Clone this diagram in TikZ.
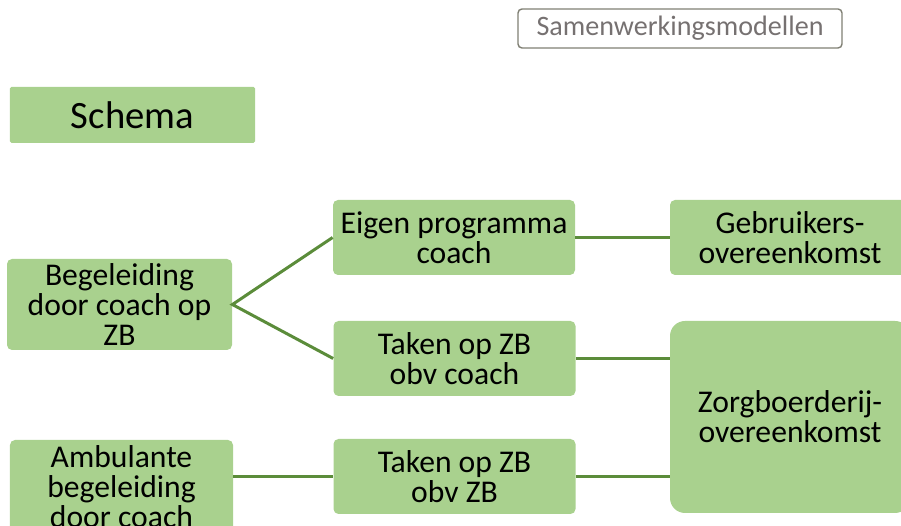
\documentclass[tikz,border=0pt]{standalone}
\usepackage{fontspec}
\setmainfont{Carlito}
\definecolor{boxgreen}{HTML}{A9D18E}
\definecolor{linegreen}{HTML}{5B8C3A}
\definecolor{framegray}{HTML}{7F7F73}
\definecolor{textgray}{HTML}{767171}

\begin{document}
\begin{tikzpicture}[
  box/.style={fill=boxgreen, rounded corners=0.1cm, align=center,
    minimum width=4.84cm, minimum height=1.5cm, inner sep=0pt,
    font=\fontsize{18}{17}\selectfont},
  link/.style={draw=linegreen, line width=1.7pt}]

\clip (0,0) rectangle (18.02,10.52);

\node (sam) at (13.6,9.95) [draw=framegray, line width=0.8pt, rounded corners=0.08cm,
  minimum width=6.48cm, minimum height=0.78cm, inner sep=0pt, text=textgray,
  font=\fontsize{16}{18}\selectfont] {Samenwerkingsmodellen};
\node (schema) at (2.65,8.22) [box, rounded corners=0.03cm, minimum width=4.9cm,
  minimum height=1.12cm, font=\fontsize{22}{24}\selectfont] {Schema};

\node (beg) at (2.39,4.43) [box, minimum width=4.5cm, minimum height=1.82cm] {Begeleiding\\door coach op\\ZB};
\node (amb) at (2.43,0.78) [box, minimum width=4.46cm, minimum height=1.88cm] {Ambulante\\begeleiding\\door coach};

\node (eigen) at (9.08,5.77) [box] {Eigen programma\\coach};
\node (takc) at (9.09,3.35) [box] {Taken op ZB\\obv coach};
\node (takz) at (9.09,0.99) [box] {Taken op ZB\\obv ZB};

\node (gebr) at (15.8,5.77) [box, minimum width=4.8cm] {Gebruikers-\\overeenkomst};
\node (zorg) at (15.8,2.18) [box, rounded corners=0.3cm, minimum width=4.8cm,
  minimum height=3.84cm] {Zorgboerderij-\\overeenkomst};

\draw [link] (eigen.west) -- (beg.east) -- (takc.west);
\draw [link] (eigen.east) -- (gebr.west);
\draw [link] (takc.east) -- (takc.east -| zorg.west);
\draw [link] (takz.east) -- (takz.east -| zorg.west);
\draw [link] (amb.east |- takz.west) -- (takz.west);

\end{tikzpicture}
\end{document}
